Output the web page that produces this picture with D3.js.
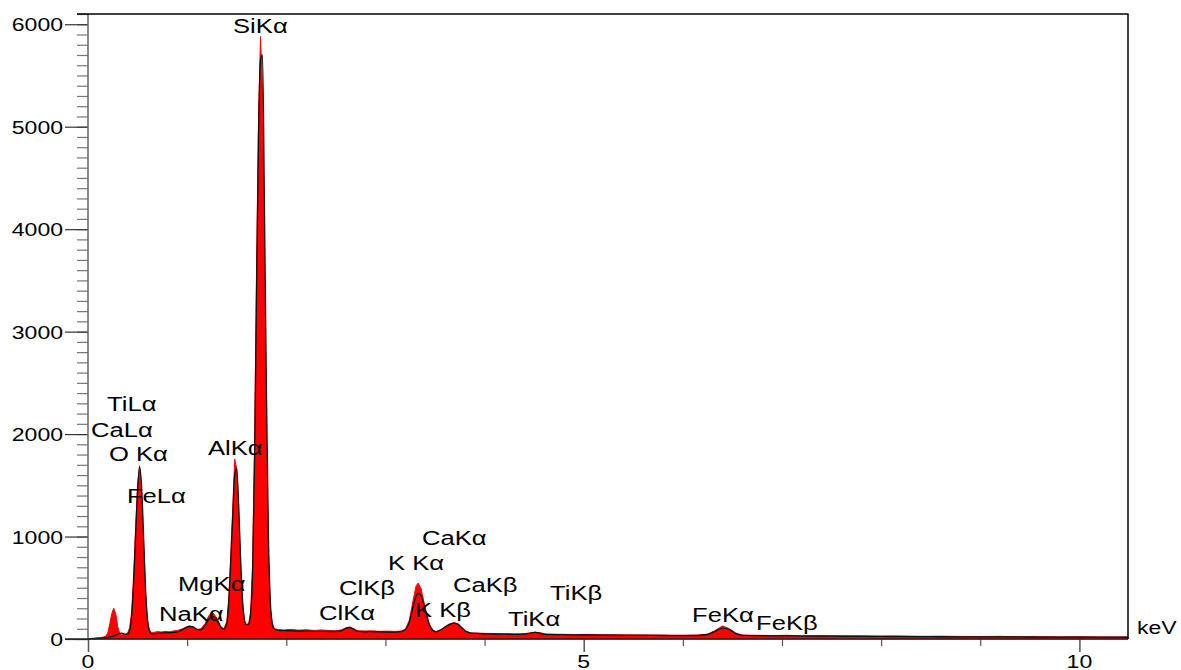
<!DOCTYPE html>
<html>
<head>
<meta charset="utf-8">
<script src="https://cdn.jsdelivr.net/npm/d3@7/dist/d3.min.js"></script>
<style>
  html, body { margin: 0; padding: 0; background: #fff; }
  svg { display: block; }
</style>
</head>
<body>
<svg id="chart" width="1181" height="670"></svg>
<script>
// ---------- DATA ----------
const energyKeV = [
  0.00,0.04,0.08,0.12,0.16,0.18,0.20,0.22,0.24,0.26,0.28,0.30,0.32,0.34,0.36,0.38,0.40,0.42,0.44,0.46,
  0.48,0.50,0.52,0.54,0.56,0.58,0.60,0.62,0.64,0.66,0.70,0.74,0.78,0.82,0.86,0.90,0.94,0.98,1.02,1.06,
  1.10,1.14,1.18,1.22,1.26,1.30,1.34,1.37,1.40,1.42,1.44,1.46,1.48,1.50,1.52,1.54,1.56,1.58,1.60,1.62,
  1.64,1.66,1.68,1.70,1.72,1.74,1.76,1.78,1.80,1.82,1.84,1.86,1.88,1.92,1.98,2.05,2.12,2.20,2.28,2.36,
  2.44,2.50,2.56,2.60,2.64,2.68,2.72,2.80,2.86,2.94,3.02,3.10,3.16,3.20,3.24,3.28,3.31,3.33,3.36,3.40,
  3.44,3.48,3.51,3.56,3.60,3.64,3.69,3.73,3.77,3.81,3.86,3.92,4.00,4.10,4.20,4.30,4.40,4.46,4.51,4.56,
  4.62,4.75,4.90,5.05,5.20,5.40,5.60,5.80,6.00,6.15,6.25,6.32,6.40,6.47,6.53,6.60,6.75,6.90,7.05,7.20,
  7.40,7.60,7.80,8.00,8.20,8.40,8.60,8.80,9.00,9.20,9.40,9.60,9.80,10.00,10.20,10.49
];
const measuredCounts = [
  4,6,10,14,20,28,60,150,250,300,245,120,55,40,45,48,60,110,260,620,
  1080,1500,1690,1450,950,460,180,85,60,64,72,68,75,70,78,82,95,112,128,120,
  95,100,150,230,255,205,120,100,170,400,820,1280,1756,1660,1250,700,330,170,140,150,
  260,720,1900,3600,5100,5880,5350,3700,2000,820,300,150,100,92,88,94,86,90,84,88,
  82,80,90,110,118,100,80,78,80,75,77,74,78,95,180,380,520,546,490,310,
  150,85,72,92,120,145,160,150,115,78,60,58,55,54,52,50,52,60,68,60,
  48,46,44,45,42,41,40,38,37,38,48,80,127,100,60,38,36,34,36,32,
  33,30,31,28,30,26,27,25,24,26,22,23,21,22,20,19
];
const fitCounts = [
  2,3,5,7,10,12,15,20,25,30,38,48,56,58,52,45,48,80,220,540,
  1010,1450,1680,1500,1020,500,190,80,52,50,55,58,60,62,65,70,85,105,122,118,
  92,90,130,195,220,185,115,95,150,360,760,1200,1600,1665,1300,760,360,180,140,145,
  240,650,1750,3400,4900,5650,5700,4200,2400,1000,350,140,95,85,82,80,78,77,75,74,
  73,73,82,102,112,95,74,70,72,69,68,68,72,90,160,320,420,449,420,290,
  150,82,70,90,115,138,155,145,110,75,58,54,51,49,47,46,48,56,64,56,
  44,42,40,39,38,36,35,34,33,34,44,72,107,92,55,35,33,31,31,29,
  28,27,26,25,24,23,22,21,21,20,20,19,19,18,18,17
];
const yTickLabels = [0, 1000, 2000, 3000, 4000, 5000, 6000];
const xTickLabels = [0, 5, 10];
const xMinorTicks = [1, 2, 3, 4, 6, 7, 8, 9];
const peakLabels = ["SiKα","TiLα","CaLα","O Kα","FeLα","AlKα","MgKα","NaKα","ClKβ","ClKα",
                    "K Kα","CaKα","CaKβ","K Kβ","TiKα","TiKβ","FeKα","FeKβ"];
const peakLabelKeV = [1.463,0.192,0.030,0.212,0.393,1.210,0.908,0.716,2.532,2.330,
                      3.026,3.369,3.682,3.298,4.236,4.660,6.093,6.738];
const peakLabelCounts = [5915,2225,1972,1737,1327,1796,468,176,429,185,
                         673,917,459,215,127,381,166,88];

(function () {
// ---------- LAYOUT ----------
const svg = d3.select("#chart");
const pLeft = 88, pRight = 1128, pTop = 14, pBottom = 639;
const x = d3.scaleLinear().domain([0, 10.49]).range([pLeft, pRight]);
const y = d3.scaleLinear().domain([0, 6100]).range([pBottom, pTop]);
const FONT = "'Liberation Sans', Arial, sans-serif";

const data = energyKeV.map((e, i) => ({e, m: measuredCounts[i], f: fitCounts[i]}));

// measured spectrum (red filled)
svg.append("path")
  .datum(data)
  .attr("fill", "#ff0000")
  .attr("stroke", "#ff0000")
  .attr("stroke-width", 1)
  .attr("d", d3.area().curve(d3.curveLinear).x(d => x(d.e)).y0(y(0)).y1(d => y(d.m)));

// fit line (black)
svg.append("path")
  .datum(data)
  .attr("fill", "none")
  .attr("stroke", "#111")
  .attr("stroke-width", 1.3)
  .attr("d", d3.line().curve(d3.curveMonotoneX).x(d => x(d.e)).y(d => y(d.f)));

// ---------- Y AXIS ----------
const yMinor = d3.range(0, 6101, 100);
const gyMinor = svg.append("g").attr("transform", `translate(${pLeft},0)`)
  .call(d3.axisLeft(y).tickValues(yMinor).tickSize(11).tickFormat(""));
gyMinor.select(".domain").remove();
gyMinor.selectAll(".tick line").attr("stroke", "#777").attr("stroke-width", 1.2);

const gyMajor = svg.append("g").attr("transform", `translate(${pLeft},0)`)
  .call(d3.axisLeft(y).tickValues(yTickLabels).tickSize(23).tickFormat(""));
gyMajor.select(".domain").remove();
gyMajor.selectAll(".tick line").attr("stroke", "#333").attr("stroke-width", 1.2);

svg.append("line").attr("x1", pLeft).attr("x2", pLeft).attr("y1", pTop).attr("y2", pBottom)
  .attr("stroke", "#666").attr("stroke-width", 1.5);

yTickLabels.forEach(v => {
  svg.append("text")
    .attr("transform", `translate(63,${y(v) + 7}) scale(1.28,1)`)
    .attr("text-anchor", "end")
    .attr("font-family", FONT).attr("font-size", 18).attr("fill", "#000")
    .text(v);
});

// ---------- X AXIS ----------
const gxMinor = svg.append("g").attr("transform", `translate(0,${pBottom})`)
  .call(d3.axisBottom(x).tickValues(xMinorTicks).tickSize(7).tickFormat(""));
gxMinor.select(".domain").remove();
gxMinor.selectAll(".tick line").attr("stroke", "#555").attr("stroke-width", 1.2);

const gxMajor = svg.append("g").attr("transform", `translate(0,${pBottom})`)
  .call(d3.axisBottom(x).tickValues(xTickLabels).tickSize(13).tickFormat(""));
gxMajor.select(".domain").remove();
gxMajor.selectAll(".tick line").attr("stroke", "#555").attr("stroke-width", 1.5);

xTickLabels.forEach(v => {
  svg.append("text")
    .attr("transform", `translate(${x(v)},668) scale(1.28,1)`)
    .attr("text-anchor", "middle")
    .attr("font-family", FONT).attr("font-size", 18).attr("fill", "#000")
    .text(v);
});

svg.append("line").attr("x1", 65).attr("x2", pRight).attr("y1", pBottom).attr("y2", pBottom)
  .attr("stroke", "#222").attr("stroke-width", 1.5);

// frame top and right
svg.append("line").attr("x1", 77).attr("x2", pRight + 0.5).attr("y1", pTop).attr("y2", pTop)
  .attr("stroke", "#000").attr("stroke-width", 1.3);
svg.append("line").attr("x1", pRight).attr("x2", pRight).attr("y1", pTop).attr("y2", pBottom)
  .attr("stroke", "#000").attr("stroke-width", 1.5);

svg.append("text")
  .attr("transform", `translate(${pRight + 9},634) scale(1.28,1)`)
  .attr("font-family", FONT).attr("font-size", 18).attr("fill", "#000")
  .text("keV");

// ---------- PEAK LABELS ----------
peakLabels.forEach((t, i) => {
  svg.append("text")
    .attr("transform", `translate(${x(peakLabelKeV[i])},${y(peakLabelCounts[i])}) scale(1.22,1)`)
    .attr("font-family", FONT).attr("font-size", 21).attr("fill", "#000")
    .text(t);
});
})();
</script>
</body>
</html>
